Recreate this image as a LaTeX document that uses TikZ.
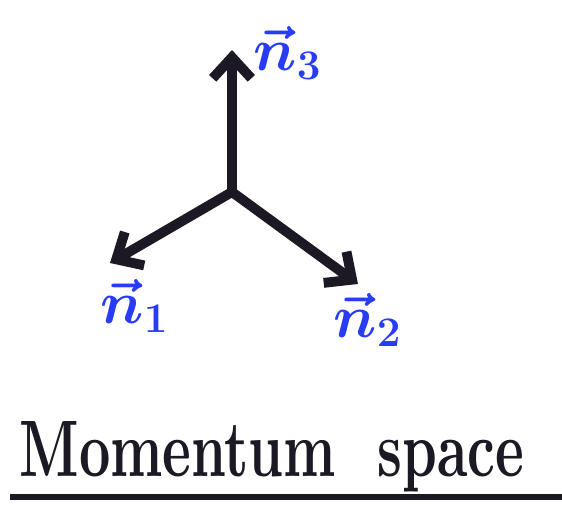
\documentclass[tikz,border=0pt]{standalone}
\usetikzlibrary{arrows.meta}
\definecolor{penblue}{RGB}{40,60,245}
\definecolor{penblack}{RGB}{28,24,36}
\begin{document}
\begin{tikzpicture}[scale=1,
  vecarrow/.style={penblack,line width=2.8pt,line cap=round,-{Straight Barb[length=6pt,width=11pt,line width=2.8pt]}},
  veclabel/.style={penblue,font=\LARGE\boldmath}]
\useasboundingbox (0,0) rectangle (5.62,5.08);
\coordinate (O) at (2.32,3.16); \coordinate (N3) at (2.32,4.58); \coordinate (N1) at (1.10,2.45); \coordinate (N2) at (3.58,2.24);
\draw[vecarrow] (O)--(N3);
\draw[vecarrow] (O)--(N1);
\draw[vecarrow] (O)--(N2);
\foreach \p/\x/\y in {1/1.35/2.02,2/3.68/1.88,3/2.88/4.55}{\node[veclabel] (L\p) at (\x,\y) {$\vec{n}_{\p}$};}
\node[penblack,anchor=base,inner sep=0pt] (title) at (2.72,0.31) {\resizebox{5.05cm}{0.55cm}{\bfseries Momentum\ \ space}};
\coordinate (U1) at (0.10,0.11); \coordinate (U2) at (5.62,0.11);
\draw[penblack,line width=1.9pt] (U1)--(U2);
\end{tikzpicture}
\end{document}
